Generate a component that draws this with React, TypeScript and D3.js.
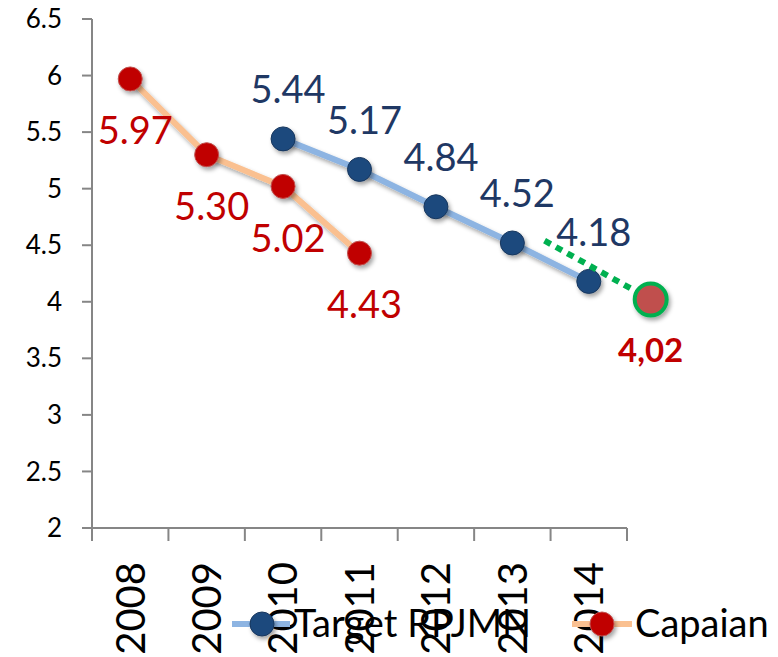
import React from "react";
import * as d3 from "d3";

const years = ["2008", "2009", "2010", "2011", "2012", "2013", "2014"];
const targetYears = ["2010", "2011", "2012", "2013", "2014"];
const targetValues = [5.44, 5.17, 4.84, 4.52, 4.18];
const actualYears = ["2008", "2009", "2010", "2011"];
const actualValues = [5.97, 5.3, 5.02, 4.43];
const yTicks = [2, 2.5, 3, 3.5, 4, 4.5, 5, 5.5, 6, 6.5];
const projectionValue = 4.02;
const projectionLabel = "4,02";
const projectionStartValue = 4.54;
const seriesNames = ["Target RPJMN", "Capaian"];

const W = 778;
const H = 657;
const FONT = "Lato, 'Open Sans', sans-serif";

export default function App() {
  const x = d3.scaleBand().domain(years).range([92, 627]);
  const y = d3.scaleLinear().domain([2, 6.5]).range([528, 19]);
  const cx = (yr: string) => (x(yr) as number) + x.bandwidth() / 2;

  const line = d3
    .line<[string, number]>()
    .x((d) => cx(d[0]))
    .y((d) => y(d[1]));

  const target = targetYears.map((yr, i) => [yr, targetValues[i]] as [string, number]);
  const actual = actualYears.map((yr, i) => [yr, actualValues[i]] as [string, number]);

  const projX = 627 + x.bandwidth() * 0.31;
  const projStartX = (x("2014") as number) - 6;

  return (
    <svg width={W} height={H} style={{ position: "absolute", left: 0, top: 0, background: "#fff" }}>
      <defs>
        <filter id="shadow" x="-50%" y="-50%" width="200%" height="200%">
          <feDropShadow dx="2" dy="3" stdDeviation="2" floodColor="#000" floodOpacity="0.35" />
        </filter>
      </defs>

      {/* y axis */}
      <line x1={92} x2={92} y1={y(6.5)} y2={528} stroke="#868686" strokeWidth={2} />
      {yTicks.map((t) => (
        <g key={t}>
          <line x1={82} x2={92} y1={y(t)} y2={y(t)} stroke="#868686" strokeWidth={2} />
          <text x={62} y={y(t)} dy="0.35em" textAnchor="end" fontFamily={FONT} fontSize={26} fill="#000">
            {t}
          </text>
        </g>
      ))}

      {/* x axis */}
      <line x1={92} x2={627} y1={528} y2={528} stroke="#868686" strokeWidth={2} />
      {[...years.map((yr) => x(yr) as number), 627].map((px, i) => (
        <line key={i} x1={px} x2={px} y1={528} y2={541} stroke="#868686" strokeWidth={2} />
      ))}
      {years.map((yr) => (
        <text
          key={yr}
          transform={`translate(${cx(yr)},562) rotate(-90)`}
          textAnchor="end"
          dy="0.36em"
          fontFamily={FONT}
          fontSize={40}
          fill="#000"
        >
          {yr}
        </text>
      ))}

      {/* Capaian series */}
      <path d={line(actual) ?? ""} fill="none" stroke="#FAC090" strokeWidth={6} filter="url(#shadow)" />
      {actual.map((d) => (
        <circle key={d[0]} cx={cx(d[0])} cy={y(d[1])} r={12} fill="#C00000" stroke="#C0504D" strokeWidth={1} filter="url(#shadow)" />
      ))}
      {actual.map((d) => (
        <text key={d[0]} x={cx(d[0]) + 5} y={y(d[1]) + 52} dy="0.35em" textAnchor="middle" fontFamily={FONT} fontSize={38} fill="#C00000">
          {d[1].toFixed(2)}
        </text>
      ))}

      {/* Target RPJMN series */}
      <path d={line(target) ?? ""} fill="none" stroke="#8DB4E2" strokeWidth={6} filter="url(#shadow)" />
      {target.map((d) => (
        <circle key={d[0]} cx={cx(d[0])} cy={y(d[1])} r={12} fill="#1F497D" stroke="#17375E" strokeWidth={1} filter="url(#shadow)" />
      ))}
      {target.map((d) => (
        <text key={d[0]} x={cx(d[0]) + 5} y={y(d[1]) - 49} dy="0.35em" textAnchor="middle" fontFamily={FONT} fontSize={38} fill="#1F3864">
          {d[1].toFixed(2)}
        </text>
      ))}

      {/* projection annotation */}
      <line
        x1={projStartX}
        y1={y(projectionStartValue)}
        x2={projX}
        y2={y(projectionValue)}
        stroke="#00B050"
        strokeWidth={6}
        strokeDasharray="7 6"
      />
      <circle cx={projX} cy={y(projectionValue)} r={16} fill="#C0504D" stroke="#00B050" strokeWidth={4} filter="url(#shadow)" />
      <text x={projX} y={y(projectionValue) + 51} dy="0.35em" textAnchor="middle" fontFamily={FONT} fontSize={33} fontWeight="bold" fill="#C00000">
        {projectionLabel}
      </text>

      {/* legend */}
      <g>
        <line x1={232} x2={290} y1={624} y2={624} stroke="#8DB4E2" strokeWidth={6} />
        <circle cx={262} cy={624} r={12} fill="#1F497D" stroke="#17375E" strokeWidth={1} filter="url(#shadow)" />
        <text x={294} y={624} dy="0.35em" fontFamily={FONT} fontSize={38} fill="#000">
          {seriesNames[0]}
        </text>
        <line x1={572} x2={632} y1={624} y2={624} stroke="#FAC090" strokeWidth={6} />
        <circle cx={602} cy={624} r={12} fill="#C00000" stroke="#C0504D" strokeWidth={1} filter="url(#shadow)" />
        <text x={635} y={624} dy="0.35em" fontFamily={FONT} fontSize={38} fill="#000">
          {seriesNames[1]}
        </text>
      </g>
    </svg>
  );
}
